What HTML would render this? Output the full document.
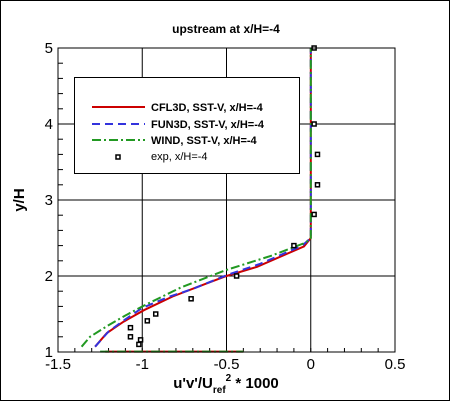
<!DOCTYPE html>
<html><head><meta charset="utf-8"><style>
html,body{margin:0;padding:0;background:#fff;}
svg{display:block;font-family:"Liberation Sans",Arial,sans-serif;}
</style></head><body>
<svg id="chart" width="450" height="401" viewBox="0 0 450 401">
<rect x="0.5" y="0.5" width="449" height="400" fill="#fff" stroke="#000"/>
<text x="226" y="33" text-anchor="middle" font-size="12" font-weight="bold">upstream at x/H=-4</text>
<g id="grid"></g>
<g id="axes"></g>
<g id="series"></g>
<rect x="58" y="48" width="337" height="304" fill="none" stroke="#000" stroke-width="1"/>
<g>
<rect x="74.5" y="77.5" width="225" height="96" fill="#fff" stroke="#000"/>
<line x1="92" y1="107" x2="145" y2="107" stroke="#cc0000" stroke-width="2"/>
<text x="151" y="111" font-size="11" font-weight="bold">CFL3D, SST-V, x/H=-4</text>
<line x1="92" y1="124" x2="145" y2="124" stroke="#3333dd" stroke-width="2" stroke-dasharray="8,5"/>
<text x="151" y="128" font-size="11" font-weight="bold">FUN3D, SST-V, x/H=-4</text>
<line x1="92" y1="140" x2="145" y2="140" stroke="#229922" stroke-width="2" stroke-dasharray="9,3,2,3"/>
<text x="151" y="144" font-size="11" font-weight="bold">WIND, SST-V, x/H=-4</text>
<rect x="116" y="155" width="4" height="4" fill="none" stroke="#000" stroke-width="1.5"/>
<text x="151" y="160" font-size="11">exp, x/H=-4</text>
</g>
<text x="226" y="388" text-anchor="middle" font-size="15" font-weight="bold">u'v'/U<tspan font-size="10" dy="5">ref</tspan><tspan font-size="10" dy="-12">2</tspan><tspan dy="7"> * 1000</tspan></text>
<text x="24" y="200" text-anchor="middle" font-size="15" font-weight="bold" transform="rotate(-90 24 200)">y/H</text>
</svg>
<script>
const xTicks=[-1.5,-1,-0.5,0,0.5];
const xTickLabels=["-1.5","-1","-0.5","0","0.5"];
const yTicks=[1,2,3,4,5];
const yTickLabels=["1","2","3","4","5"];
const cfl3dX=[-1.22,-0.4,null,-1.28,-1.21,-1.11,-0.99,-0.82,-0.62,-0.5,-0.32,-0.04,0,0];
const cfl3dY=[1.005,1.005,null,1.07,1.25,1.40,1.55,1.73,1.90,2.0,2.12,2.39,2.5,5];
const fun3dX=[-1.28,-1.2,-1.1,-1.0,-0.85,-0.7,-0.5,-0.3,-0.05,0,0];
const fun3dY=[1.07,1.27,1.43,1.58,1.72,1.83,2.01,2.16,2.40,2.5,5];
const windX=[-1.25,-0.4,null,-1.36,-1.31,-1.21,-1.1,-0.99,-0.77,-0.5,-0.23,-0.03,0,0];
const windY=[1.005,1.005,null,1.07,1.2,1.34,1.48,1.61,1.85,2.08,2.27,2.44,2.5,5];
const expX=[0.02,0.02,0.04,0.04,0.02,-0.10,-0.44,-0.71,-0.92,-0.97,-1.07,-1.07,-1.01,-1.02];
const expY=[5.0,4.0,3.6,3.2,2.81,2.40,2.0,1.70,1.50,1.41,1.32,1.20,1.16,1.10];
const L=58,R=395,T=48,B=352,xMin=-1.5,xMax=0.5,yMin=1,yMax=5;
const sx=v=>L+(v-xMin)/(xMax-xMin)*(R-L);
const sy=v=>B-(v-yMin)/(yMax-yMin)*(B-T);
const NS="http://www.w3.org/2000/svg";
function mk(tag,attrs,parent){const e=document.createElementNS(NS,tag);for(const k in attrs)e.setAttribute(k,attrs[k]);parent.appendChild(e);return e;}
const grid=document.getElementById('grid'),axes=document.getElementById('axes'),series=document.getElementById('series');
xTicks.forEach((v,i)=>{
 const g=mk('line',{x1:sx(v),x2:sx(v),y1:T,y2:B,stroke:'#000','stroke-width':1},grid);
 
 
 const t=mk('text',{x:sx(v),y:B+17,'text-anchor':'middle','font-size':15},axes);
 t.textContent=xTickLabels[i];
 
 
});
yTicks.forEach((v,i)=>{
 const g=mk('line',{x1:L,x2:R,y1:sy(v),y2:sy(v),stroke:'#000','stroke-width':1},grid);
 
 
 const t=mk('text',{x:L-5,y:sy(v)+5,'text-anchor':'end','font-size':15},axes);
 t.textContent=yTickLabels[i];
 
 
});
for(let v=-1.5;v<=0.5001;v+=0.1){
 const m=mk('line',{x1:sx(v),x2:sx(v),y1:B,y2:B-4,stroke:'#000'},axes);
 
 
}
for(let v=1;v<=5.001;v+=0.2){
 const m=mk('line',{x1:L,x2:L+5,y1:sy(v),y2:sy(v),stroke:'#000'},axes);
 
 
}
function path(xs,ys){let d='',mv=true;for(let i=0;i<xs.length;i++){if(xs[i]===null){mv=true;continue;}d+=(mv?'M':'L')+sx(xs[i]).toFixed(1)+','+sy(ys[i]).toFixed(1);mv=false;}return d;}
const p1=mk('path',{d:path(cfl3dX,cfl3dY),fill:'none',stroke:'#cc0000','stroke-width':2},series);


const p2=mk('path',{d:path(fun3dX,fun3dY),fill:'none',stroke:'#3333dd','stroke-width':2,'stroke-dasharray':'8,5'},series);


const p3=mk('path',{d:path(windX,windY),fill:'none',stroke:'#229922','stroke-width':2,'stroke-dasharray':'9,3,2,3'},series);


expX.forEach((v,i)=>{
 const r=mk('rect',{x:sx(v)-2,y:sy(expY[i])-2,width:4,height:4,fill:'#fff',stroke:'#000','stroke-width':1.5},series);
 
 
});
</script>
</body></html>
